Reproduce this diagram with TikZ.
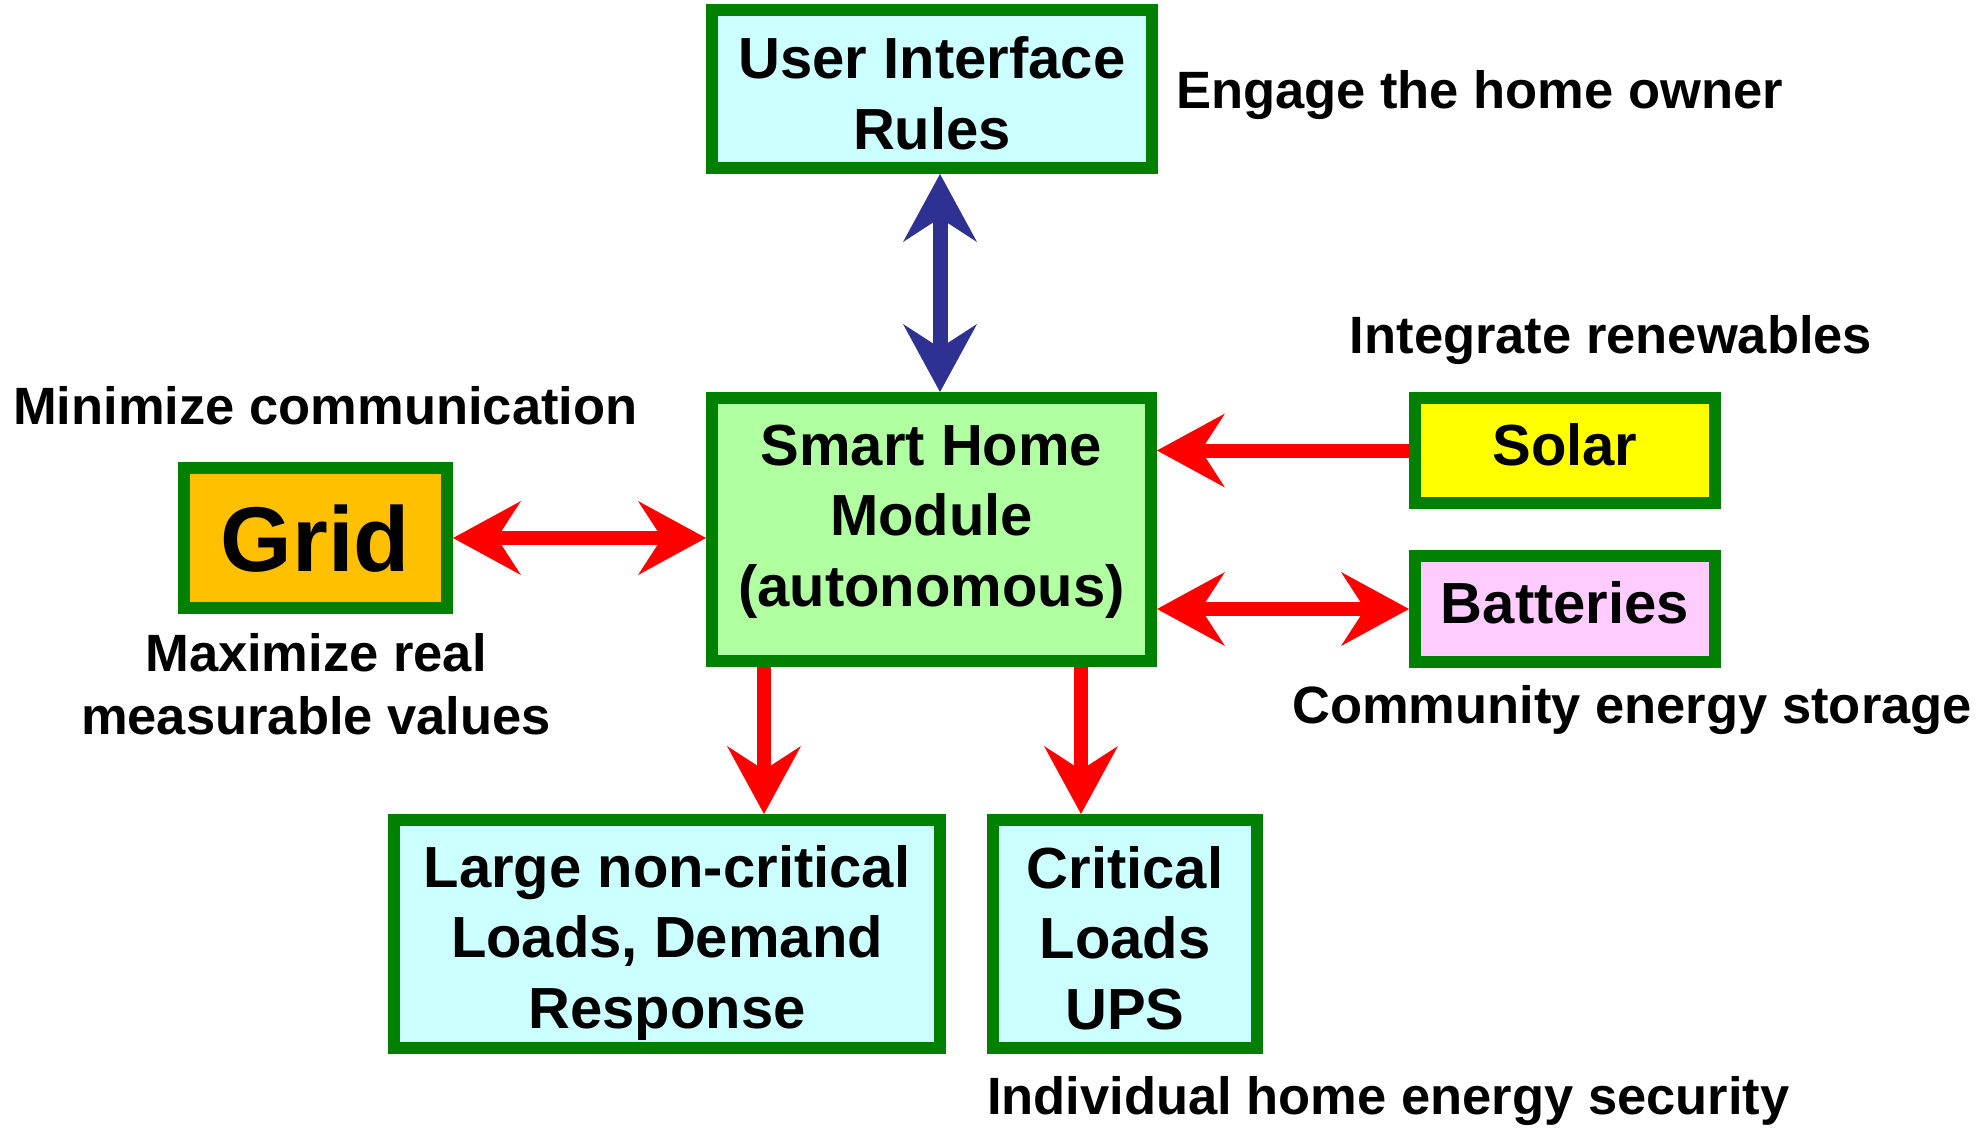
\documentclass[tikz,border=0pt]{standalone}
\usepackage{fontspec}
\setmainfont{Liberation Sans}
\usetikzlibrary{arrows.meta}

\definecolor{boxgreen}{RGB}{0,128,0}
\definecolor{lightcyan}{RGB}{204,255,255}
\definecolor{modgreen}{RGB}{176,255,160}
\definecolor{gridorange}{RGB}{255,192,0}
\definecolor{solaryellow}{RGB}{255,255,0}
\definecolor{battpink}{RGB}{255,204,255}
\definecolor{linkblue}{RGB}{46,49,146}
\definecolor{linkred}{RGB}{255,0,0}

% centred lines whose box baseline is the first line
\newcommand\boxtext[1]{\begin{tabular}[t]{@{}c@{}}#1\end{tabular}}

\begin{document}
\begin{tikzpicture}[x=1pt,y=-1pt,
  box/.style={draw=boxgreen, line width=12pt, rectangle, inner sep=0pt,
    font=\fontsize{58}{70.7}\selectfont\bfseries},
  note/.style={inner sep=0pt, align=center,
    font=\fontsize{52.5}{63}\selectfont\bfseries},
  link/.style={line width=14pt,
    >={Stealth[length=68pt,width=74pt,inset=24pt,line width=0pt]}},
  redlink/.style={link, draw=linkred},
  bluelink/.style={link, draw=linkblue, line width=15pt}
]
\useasboundingbox (0,0) rectangle (1986,1127);

% blocks
\node[box, fill=lightcyan, minimum width=440pt, minimum height=158pt,
  text height=0pt, text depth=21.4pt]
  (ui) at (932,89) {\boxtext{User Interface\\Rules}};
\node[box, fill=modgreen, minimum width=439pt, minimum height=263pt,
  text height=0pt, text depth=129pt]
  (smart) at (931.5,529.5) {\boxtext{Smart Home\\Module\\(autonomous)}};
\node[box, fill=gridorange, minimum width=263pt, minimum height=140pt,
  text height=66pt, text depth=0pt,
  font=\fontsize{92}{110}\selectfont\bfseries]
  (grid) at (315.5,538) {Grid};
\node[box, fill=solaryellow, minimum width=300pt, minimum height=105pt,
  text height=29pt, text depth=0pt]
  (solar) at (1565,450.5) {Solar};
\node[box, fill=battpink, minimum width=300pt, minimum height=106pt,
  text height=28.6pt, text depth=0pt]
  (batt) at (1565,609) {Batteries};
\node[box, fill=lightcyan, minimum width=546pt, minimum height=228pt,
  text height=0pt, text depth=94pt]
  (large) at (667,934) {\boxtext{Large non-critical\\Loads, Demand\\Response}};
\node[box, fill=lightcyan, minimum width=264pt, minimum height=228pt,
  text height=0pt, text depth=92pt]
  (crit) at (1125,934) {\boxtext{Critical\\Loads\\UPS}};

% goals
\node[note, anchor=base west] (engage) at (1176,108.5) {Engage the home owner};
\node[note, anchor=base] (integrate) at (1611,353) {Integrate renewables};
\node[note, anchor=base west] (minimize) at (13,424) {Minimize communication};
\node[note, anchor=north] (maximize) at (316,633.4) {Maximize real\\measurable values};
\node[note, anchor=base west] (community) at (1292,723) {Community energy storage};
\node[note, anchor=base west] (individual) at (987,1114) {Individual home energy security};

% connectors
\coordinate (ux) at (940,0);
\coordinate (d1) at (764,0);
\coordinate (d2) at (1081,0);
\draw[bluelink, <->] (ui.south -| ux) -- (smart.north -| ux);
\draw[redlink, <->] (grid.east) -- (grid.east -| smart.west);
\draw[redlink, ->] (solar.west) -- (solar.west -| smart.east);
\draw[redlink, <->] (smart.east |- batt.west) -- (batt.west);
\draw[redlink, ->] (smart.south -| d1) -- (large.north -| d1);
\draw[redlink, ->] (smart.south -| d2) -- (crit.north -| d2);
\end{tikzpicture}
\end{document}
